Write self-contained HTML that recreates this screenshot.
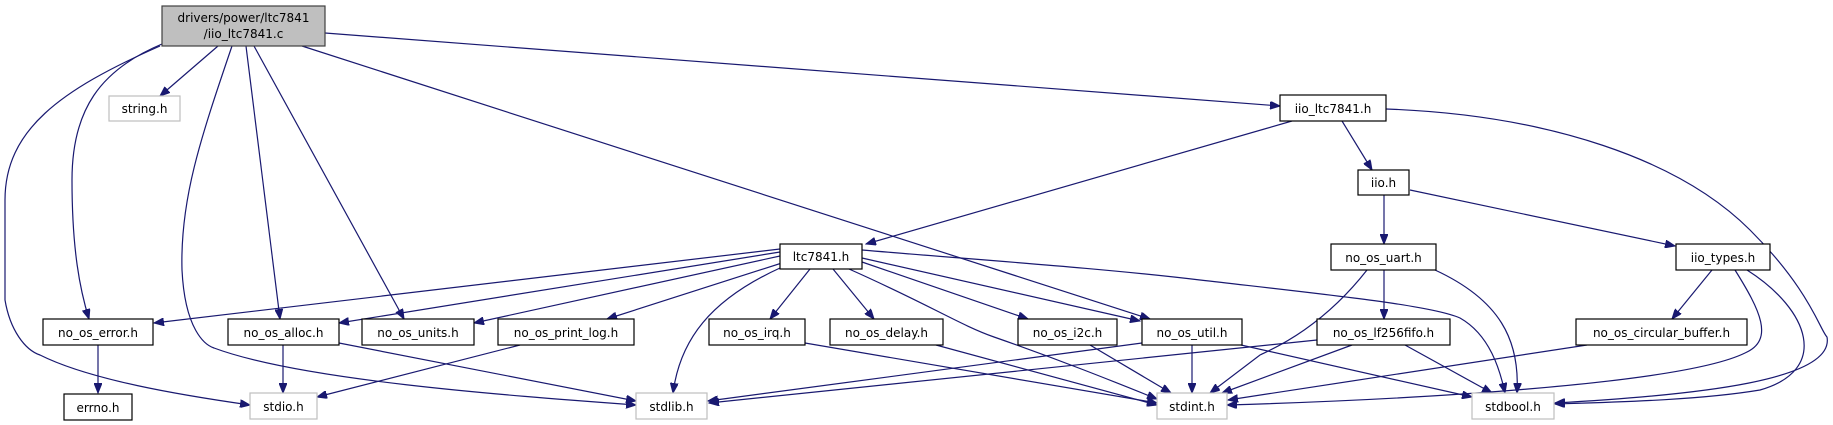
<!DOCTYPE html>
<html><head><meta charset="utf-8"><style>
html,body{margin:0;padding:0;background:#fff;}
svg{display:block;}
text{font-family:"DejaVu Sans","Liberation Sans",sans-serif;font-size:12px;fill:#000;}
.e{fill:none;stroke:#191970;stroke-width:1.2;}
.n{fill:#fff;stroke:#000;stroke-width:1.2;}
.g{fill:#fff;stroke:#bfbfbf;stroke-width:1.2;}
</style></head><body>
<svg width="1833" height="425" viewBox="0 0 1833 425" xmlns="http://www.w3.org/2000/svg">
<defs>
<marker id="a" markerWidth="11" markerHeight="8" refX="10" refY="4" orient="auto" markerUnits="userSpaceOnUse">
<path d="M0,0 L10,4 L0,8 Z" fill="#191970" stroke="#191970"/>
</marker>
</defs>
<g marker-end="url(#a)">
<path class="e" d="M218,46 L160,96"/>
<path class="e" d="M162,44 C100,70 72,110 72,180 C72,250 80,290 89,319"/>
<path class="e" d="M160,46 C60,90 5,130 5,200 L5,300 C10,330 25,350 40,355 C90,380 180,395 250,405"/>
<path class="e" d="M232,46 C200,140 180,200 182,270 C185,330 205,345 214,348 C300,380 500,395 636,405"/>
<path class="e" d="M246,46 L280,319"/>
<path class="e" d="M254,46 L404,319"/>
<path class="e" d="M302,46 L1150,319"/>
<path class="e" d="M325,33 L1280,106"/>
<path class="e" d="M1292,121 L866,244"/>
<path class="e" d="M1342,121 L1372,170"/>
<path class="e" d="M1386,109 C1550,115 1680,160 1750,230 C1810,290 1820,330 1827,337 C1835,380 1700,395 1555,403"/>
<path class="e" d="M1384,195 L1384,244"/>
<path class="e" d="M1410,190 L1675,246"/>
<path class="e" d="M780,249 L154,323"/>
<path class="e" d="M780,252 L339,323"/>
<path class="e" d="M780,256 L474,323"/>
<path class="e" d="M785,262 L607,319"/>
<path class="e" d="M780,268 C710,300 680,340 673,393"/>
<path class="e" d="M810,269 L770,319"/>
<path class="e" d="M833,269 L874,319"/>
<path class="e" d="M849,269 C930,305 960,325 994,337 C1060,360 1110,380 1157,399"/>
<path class="e" d="M862,262 L1028,319"/>
<path class="e" d="M862,258 L1140,321"/>
<path class="e" d="M862,250 C980,260 1100,268 1200,280 C1330,295 1430,305 1460,318 C1490,335 1500,370 1505,393"/>
<path class="e" d="M98,345 L98,393"/>
<path class="e" d="M283,345 L283,393"/>
<path class="e" d="M339,343 L636,401"/>
<path class="e" d="M520,345 L317,397"/>
<path class="e" d="M805,343 L1157,403"/>
<path class="e" d="M936,345 L1157,405"/>
<path class="e" d="M1090,345 L1171,393"/>
<path class="e" d="M1192,345 L1192,393"/>
<path class="e" d="M1142,343 L708,401"/>
<path class="e" d="M1241,345 L1472,397"/>
<path class="e" d="M1367,270 C1320,330 1270,350 1260,355 L1210,393"/>
<path class="e" d="M1384,270 L1384,319"/>
<path class="e" d="M1435,270 C1500,300 1520,340 1517,393"/>
<path class="e" d="M1317,340 L709,403"/>
<path class="e" d="M1352,345 L1222,393"/>
<path class="e" d="M1405,345 L1492,393"/>
<path class="e" d="M1712,270 L1672,319"/>
<path class="e" d="M1735,270 C1760,310 1775,340 1745,353 C1680,385 1400,400 1227,405"/>
<path class="e" d="M1747,270 C1810,310 1830,370 1760,390 C1700,400 1620,402 1555,404"/>
<path class="e" d="M1587,345 L1228,400"/>
</g>
<rect x="162" y="6" width="163" height="40" fill="#bfbfbf" stroke="#404040" stroke-width="1.2"/>
<text x="243.5" y="22" text-anchor="middle">drivers/power/ltc7841</text>
<text x="243.5" y="38" text-anchor="middle">/iio_ltc7841.c</text>

<rect class="g" x="109" y="96" width="71" height="25"/><text x="144.5" y="113" text-anchor="middle">string.h</text>
<rect class="n" x="1280" y="95" width="106" height="26"/><text x="1333" y="113" text-anchor="middle">iio_ltc7841.h</text>
<rect class="n" x="1358" y="170" width="51" height="25"/><text x="1383.5" y="187" text-anchor="middle">iio.h</text>
<rect class="n" x="780" y="244" width="82" height="25"/><text x="821" y="261" text-anchor="middle">ltc7841.h</text>
<rect class="n" x="1331" y="244" width="105" height="26"/><text x="1383.5" y="262" text-anchor="middle">no_os_uart.h</text>
<rect class="n" x="1676" y="244" width="94" height="26"/><text x="1723" y="262" text-anchor="middle">iio_types.h</text>

<rect class="n" x="43" y="319" width="110" height="26"/><text x="98" y="337" text-anchor="middle">no_os_error.h</text>
<rect class="n" x="228" y="319" width="111" height="26"/><text x="283.5" y="337" text-anchor="middle">no_os_alloc.h</text>
<rect class="n" x="362" y="319" width="112" height="26"/><text x="418" y="337" text-anchor="middle">no_os_units.h</text>
<rect class="n" x="498" y="319" width="136" height="26"/><text x="566" y="337" text-anchor="middle">no_os_print_log.h</text>
<rect class="n" x="709" y="319" width="96" height="26"/><text x="757" y="337" text-anchor="middle">no_os_irq.h</text>
<rect class="n" x="830" y="319" width="113" height="26"/><text x="886.5" y="337" text-anchor="middle">no_os_delay.h</text>
<rect class="n" x="1018" y="319" width="99" height="26"/><text x="1067.5" y="337" text-anchor="middle">no_os_i2c.h</text>
<rect class="n" x="1142" y="319" width="100" height="26"/><text x="1192" y="337" text-anchor="middle">no_os_util.h</text>
<rect class="n" x="1317" y="319" width="133" height="26"/><text x="1383.5" y="337" text-anchor="middle">no_os_lf256fifo.h</text>
<rect class="n" x="1576" y="319" width="171" height="26"/><text x="1661.5" y="337" text-anchor="middle">no_os_circular_buffer.h</text>

<rect class="n" x="64" y="394" width="68" height="26"/><text x="98" y="412" text-anchor="middle">errno.h</text>
<rect class="g" x="250" y="393" width="67" height="26"/><text x="283.5" y="411" text-anchor="middle">stdio.h</text>
<rect class="g" x="636" y="393" width="71" height="26"/><text x="671.5" y="411" text-anchor="middle">stdlib.h</text>
<rect class="g" x="1157" y="393" width="70" height="26"/><text x="1192" y="411" text-anchor="middle">stdint.h</text>
<rect class="g" x="1472" y="393" width="82" height="26"/><text x="1513" y="411" text-anchor="middle">stdbool.h</text>
</svg>
</body></html>
